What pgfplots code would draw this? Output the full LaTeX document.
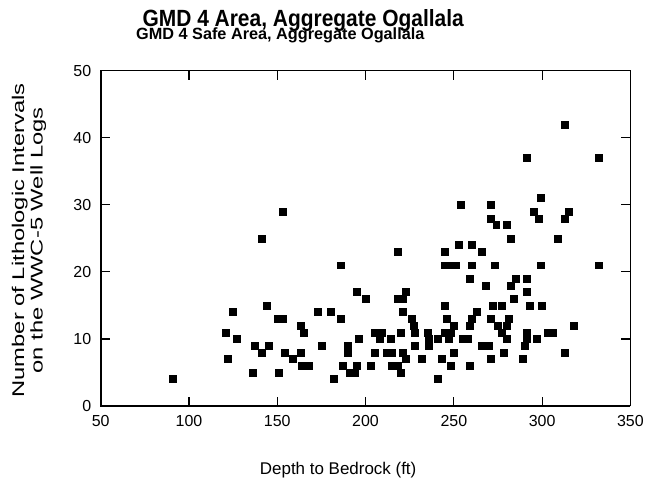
\documentclass[border=0pt]{standalone}
\usepackage{pgfplots}
\pgfplotsset{compat=1.18}
\usepackage{fontspec}
\setmainfont{Liberation Sans}
\begin{document}
\begin{tikzpicture}[x=1pt,y=1pt]
% invisible frame to fix picture size (647 x 485 px)
\path (-101,-78) rectangle (546,407);
\begin{axis}[
  at={(0,0)}, anchor=origin,
  scale only axis, width=531pt, height=336pt,
  xmin=50, xmax=350, ymin=0, ymax=50,
  xtick={50,100,...,350}, ytick={0,10,...,50},
  tick align=inside, major tick length=9pt,
  tick style={line width=1.2pt, black},
  axis line style={line width=1pt},
  /pgf/number format/assume math mode=true,
  ticklabel style={font=\fontsize{16}{18}\selectfont},
  xticklabel style={yshift=-6pt},
  yticklabel style={xshift=-6pt},
  clip=false,
]
\addplot[only marks, mark=square*, mark size=3.5pt, mark options={fill=black, draw=black, rounded corners=1.2pt}] coordinates {
(91,4) (125,14) (121,11) (127,10) (122,7) (144,15) (150,13) (153,13) (137,9) (145,9)
(141,8) (136,5) (151,5) (141,25) (153,29) (218,23) (245,23) (186,21) (245,21) (248,21)
(251,21) (260,21) (195,17) (200,16) (223,17) (218,16) (221,16) (245,15) (246,13) (173,14)
(180,14) (186,13) (163,12) (165,11) (221,14) (226,13) (227,12) (228,11) (220,11) (205,11)
(209,11) (208,10) (214,10) (196,10) (175,9) (190,9) (190,8) (154,8) (163,8) (159,7)
(164,6) (168,6) (182,4) (187,6) (195,6) (191,5) (194,5) (203,6) (205,8) (212,8)
(215,8) (221,8) (223,7) (215,6) (218,6) (220,5) (232,7) (235,11) (236,10) (236,9)
(228,9) (241,10) (243,7) (241,4) (245,11) (248,11) (247,10) (248,6) (250,8) (273,21)
(299,21) (332,21) (266,23) (259,19) (268,18) (282,18) (285,19) (291,19) (291,17) (284,16)
(272,15) (277,15) (293,15) (300,15) (263,14) (260,13) (271,13) (281,13) (259,12) (275,12)
(280,12) (318,12) (250,12) (277,11) (291,11) (303,11) (306,11) (280,10) (291,10) (297,10)
(255,10) (258,10) (266,9) (270,9) (290,9) (278,8) (313,8) (271,7) (289,7) (259,6)
(313,42) (291,37) (332,37) (299,31) (254,30) (271,30) (295,29) (315,29) (271,28) (298,28)
(313,28) (274,27) (280,27) (282,25) (309,25) (253,24) (260,24)
};
\draw[line width=1.8pt] (rel axis cs:0,1) -- (rel axis cs:0,0) -- (rel axis cs:1,0);
\end{axis}
\node[anchor=base, font=\fontsize{21}{24}\selectfont\bfseries] at (203,380) {\scalebox{1}[1.12]{GMD 4 Area, Aggregate Ogallala}};
\node[anchor=base, font=\fontsize{16.3}{18}\selectfont\bfseries] at (180,367) {GMD 4 Safe Area, Aggregate Ogallala};
\node[anchor=base, font=\fontsize{17}{20}\selectfont] at (238,-69) {Depth to Bedrock (ft)};
\node[rotate=90, align=center, font=\fontsize{17}{18.5}\selectfont] at (-72,166) {\scalebox{1.4}[1]{Number of Lithologic Intervals}\\\scalebox{1.4}[1]{on the WWC-5 Well Logs}};
\end{tikzpicture}
\end{document}
